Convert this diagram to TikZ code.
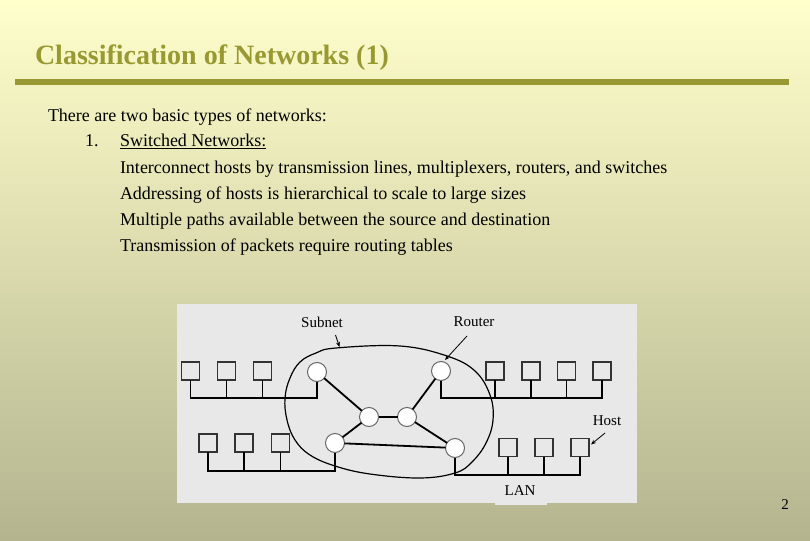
\documentclass[tikz,border=0pt]{standalone}
\usepackage{fontspec}
\setmainfont{Liberation Serif}
\usetikzlibrary{arrows.meta}
\definecolor{bgtop}{RGB}{255,255,204}
\definecolor{bgbot}{RGB}{180,180,143}
\definecolor{olive}{RGB}{153,153,51}
\definecolor{panel}{RGB}{232,232,232}
\tikzset{
  every node/.style={inner sep=0pt, outer sep=0pt},
  body/.style={anchor=base west, font=\fontsize{18}{20}\selectfont},
  lbl/.style={anchor=center, font=\fontsize{15}{17}\selectfont},
  host/.style={draw=black!80, line width=1.1pt, minimum size=18pt, rectangle},
  router/.style={draw=black!60, line width=1pt, fill=white, circle, minimum size=19pt},
  link/.style={line width=1.8pt, black},
  bus/.style={line width=1.8pt, black},
  subnetline/.style={line width=1.2pt, black},
  pointer/.style={line width=0.8pt, -{Stealth[length=5pt,width=4pt]}},
}
\begin{document}
\begin{tikzpicture}[x=1pt,y=-1pt]
\useasboundingbox (0,0) rectangle (810,540);
\shade[top color=bgtop, bottom color=bgbot] (0,0) rectangle (810,540);
% title
\node[anchor=base west, font=\fontsize{28}{30}\selectfont\bfseries, text=olive] (title) at (35,65) {Classification of Networks (1)};
\draw[olive, line width=6pt] (15,82) -- (789,82);
% body text
\node[body] (t0) at (48,122) {There are two basic types of networks:};
\node[body] (n1) at (85,147) {1.};
\node[body] (t1) at (120,147) {\underline{Switched Networks:}};
\node[body] (t2) at (120,173) {Interconnect hosts by transmission lines, multiplexers, routers, and switches};
\node[body] (t3) at (120,199) {Addressing of hosts is hierarchical to scale to large sizes};
\node[body] (t4) at (120,225) {Multiple paths available between the source and destination};
\node[body] (t5) at (120,251) {Transmission of packets require routing tables};
% panel
\fill[panel] (177,304) rectangle (637,503);
\fill[panel] (495,500) rectangle (547,505);
% subnet boundary
\draw[subnetline] plot[smooth cycle, tension=0.65] coordinates {
 (336,348) (400,346) (447,356) (475,371) (490,395) (493,420) (486,443) (472,462) (455,473) (420,478) (370,474) (335,466) (310,455) (295,440) (287,420) (285,398) (290,378) (300,362) (316,353)};
% routers
\node[router] (r1) at (317,372) {};
\node[router] (r2) at (441,371) {};
\node[router] (r3) at (369,417) {};
\node[router] (r4) at (407,417) {};
\node[router] (r5) at (335,443) {};
\node[router] (r6) at (455,448) {};
\draw[link] (r1) -- (r3);
\draw[link] (r3) -- (r4);
\draw[link] (r4) -- (r2);
\draw[link] (r3) -- (r5);
\draw[link] (r4) -- (r6);
\draw[link] (r5) -- (r6);
% bus levels
\coordinate (busA) at (0,398);
\coordinate (busB) at (0,471);
\coordinate (busC) at (0,398);
\coordinate (busD) at (0,475);
% hosts top-left
\node[host] (h1) at (190.5,371) {};
\node[host] (h2) at (226.5,371) {};
\node[host] (h3) at (262.5,371) {};
% hosts bottom-left
\node[host] (h4) at (208,443) {};
\node[host] (h5) at (244,443) {};
\node[host] (h6) at (280.5,443) {};
% hosts top-right
\node[host] (h7) at (495,371) {};
\node[host] (h8) at (531,371) {};
\node[host] (h9) at (566.5,371) {};
\node[host] (h10) at (602,371) {};
% hosts bottom-right
\node[host] (h11) at (508,447.5) {};
\node[host] (h12) at (544,447.5) {};
\node[host] (h13) at (580,447.5) {};
% buses
\draw[bus] (h1.south) -- (h1.south |- busA) -- (r1.south |- busA) -- (r1.south);
\draw[bus] (h2.south) -- (h2.south |- busA);
\draw[bus] (h3.south) -- (h3.south |- busA);
\draw[bus] (h4.south) -- (h4.south |- busB) -- (r5.south |- busB) -- (r5.south);
\draw[bus] (h5.south) -- (h5.south |- busB);
\draw[bus] (h6.south) -- (h6.south |- busB);
\draw[bus] (r2.south) -- (r2.south |- busC) -- (h10.south |- busC) -- (h10.south);
\draw[bus] (h7.south) -- (h7.south |- busC);
\draw[bus] (h8.south) -- (h8.south |- busC);
\draw[bus] (h9.south) -- (h9.south |- busC);
\draw[bus] (r6.south) -- (r6.south |- busD) -- (h13.south |- busD) -- (h13.south);
\draw[bus] (h11.south) -- (h11.south |- busD);
\draw[bus] (h12.south) -- (h12.south |- busD);
% labels
\node[lbl] (lsub) at (322,322) {Subnet};
\node[lbl] (lrou) at (474,322) {Router};
\node[lbl] (lhost) at (607,421) {Host};
\node[lbl] (llan) at (520,491) {LAN};
\coordinate (as1) at (335.5,335);
\coordinate (as2) at (339.5,347);
\coordinate (ar1) at (467,336);
\coordinate (ar2) at (445,360);
\coordinate (ah1) at (605,433);
\coordinate (ah2) at (591,444.5);
\draw[pointer] (as1) -- (as2);
\draw[pointer] (ar1) -- (ar2);
\draw[pointer] (ah1) -- (ah2);
% page number
\node[anchor=center, font=\fontsize{15}{17}\selectfont] (pg) at (785,505) {2};
\end{tikzpicture}
\end{document}
